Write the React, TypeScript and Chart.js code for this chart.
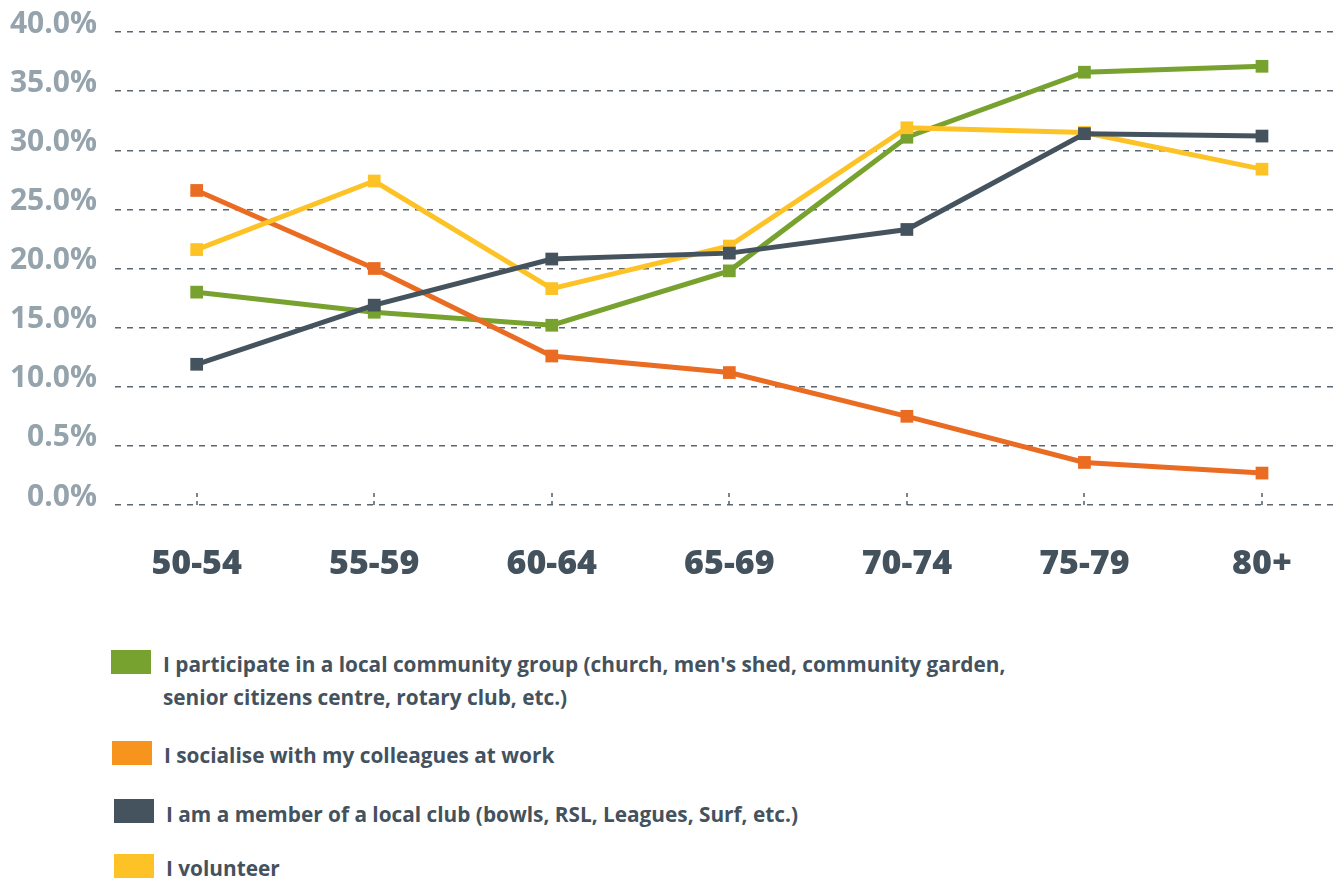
import React, { useEffect, useRef } from "react";
import { Chart, registerables } from "chart.js";

Chart.register(...registerables);

const categories = ["50-54", "55-59", "60-64", "65-69", "70-74", "75-79", "80+"];
const yTickLabels = ["0.0%", "0.5%", "10.0%", "15.0%", "20.0%", "25.0%", "30.0%", "35.0%", "40.0%"];

const communityGroup = [18.0, 16.3, 15.2, 19.8, 31.1, 36.6, 37.1];
const colleagues = [26.6, 20.0, 12.6, 11.2, 7.5, 3.6, 2.7];
const localClub = [11.9, 16.9, 20.8, 21.3, 23.3, 31.4, 31.2];
const volunteer = [21.6, 27.4, 18.3, 21.9, 31.9, 31.5, 28.4];

const legendLabels = [
  ["I participate in a local community group (church, men's shed, community garden,", "senior citizens centre, rotary club, etc.)"],
  ["I socialise with my colleagues at work"],
  ["I am a member of a local club (bowls, RSL, Leagues, Surf, etc.)"],
  ["I volunteer"],
];

const lineColors = ["#78a22f", "#ea6b22", "#44535e", "#fdc326"];
const legendColors = ["#78a22f", "#f7941d", "#44535e", "#fdc326"];

const toPoints = (vals: number[]) => vals.map((v, i) => ({ x: i, y: v }));

const tickMarks = {
  id: "tickMarks",
  beforeDatasetsDraw(chart: any) {
    const { ctx, chartArea, scales } = chart;
    const xs = scales.x;
    ctx.save();
    ctx.strokeStyle = "#4f5d68";
    ctx.lineWidth = 1.5;
    ctx.setLineDash([4, 4]);
    categories.forEach((_, i) => {
      const px = Math.round(xs.getPixelForValue(i));
      ctx.beginPath();
      ctx.moveTo(px, chartArea.bottom);
      ctx.lineTo(px, chartArea.bottom - 16);
      ctx.stroke();
    });
    ctx.restore();
  },
};

export default function App() {
  const ref = useRef<HTMLCanvasElement>(null);
  useEffect(() => {
    document.body.style.margin = "0";
    const seriesList = [communityGroup, colleagues, localClub, volunteer];
    const orders = [3, 2, 0, 1];
    const chart = new Chart(ref.current!, {
      type: "line",
      data: {
        datasets: seriesList.map((s, i) => ({
          label: legendLabels[i].join(" "),
          data: toPoints(s),
          borderColor: lineColors[i],
          backgroundColor: lineColors[i],
          borderWidth: 5,
          pointStyle: "rect",
          pointRadius: 9,
          pointHoverRadius: 9,
          pointBorderWidth: 0,
          tension: 0,
          clip: false,
          order: orders[i],
        })),
      },
      plugins: [tickMarks],
      options: {
        animation: false,
        responsive: false,
        devicePixelRatio: 1,
        layout: { autoPadding: false, padding: { top: 32, right: 0, left: 0, bottom: 0 } },
        plugins: { legend: { display: false }, tooltip: { enabled: false } },
        scales: {
          x: {
            type: "linear",
            min: -0.46,
            max: 6.4,
            grid: { display: false },
            border: { display: false },
            ticks: {
              stepSize: 1,
              includeBounds: false,
              autoSkip: false,
              maxRotation: 0,
              padding: 31,
              color: "#44525e",
              font: { family: "'Open Sans'", weight: "800", size: 34 },
              callback: (v: any) => (Number.isInteger(v) && categories[v] !== undefined ? categories[v] : ""),
            },
            afterFit: (s: any) => {
              s.height = 115;
              s.paddingLeft = 0;
              s.paddingRight = 0;
            },
          },
          y: {
            min: 0,
            max: 40,
            grid: { color: "#5a6770", lineWidth: 1.5, drawTicks: false },
            border: { display: false, dash: [6, 6] },
            ticks: {
              stepSize: 5,
              padding: 18,
              labelOffset: -8,
              color: "#95a3ad",
              font: { family: "'Open Sans'", weight: "bold", size: 30 },
              callback: (v: any) => yTickLabels[Math.round(Number(v) / 5)] ?? "",
            },
            afterFit: (s: any) => {
              s.width = 115;
              s.paddingTop = 0;
              s.paddingBottom = 0;
            },
          },
        },
      },
    });
    return () => chart.destroy();
  }, []);

  const squares = [
    { x: 111, y: 650 },
    { x: 112, y: 741 },
    { x: 114, y: 799 },
    { x: 114, y: 854 },
  ];
  const textPos = [
    { x: 163, y: 648 },
    { x: 164, y: 739 },
    { x: 166, y: 798 },
    { x: 166, y: 852 },
  ];

  return (
    <div style={{ position: "absolute", left: 0, top: 0, width: 1333, height: 879, background: "#fff", overflow: "hidden" }}>
      <canvas ref={ref} width={1333} height={620} style={{ position: "absolute", left: 0, top: 0 }} />
      {legendLabels.map((lines, i) => (
        <React.Fragment key={i}>
          <div
            style={{
              position: "absolute",
              left: squares[i].x,
              top: squares[i].y,
              width: 40,
              height: 24,
              background: legendColors[i],
            }}
          />
          <div
            style={{
              position: "absolute",
              left: textPos[i].x,
              top: textPos[i].y,
              fontFamily: "'Open Sans', sans-serif",
              fontWeight: 700,
              fontSize: 20.8,
              lineHeight: "33px",
              color: "#44525e",
              whiteSpace: "nowrap",
            }}
          >
            {lines.map((l, j) => (
              <div key={j}>{l}</div>
            ))}
          </div>
        </React.Fragment>
      ))}
    </div>
  );
}
